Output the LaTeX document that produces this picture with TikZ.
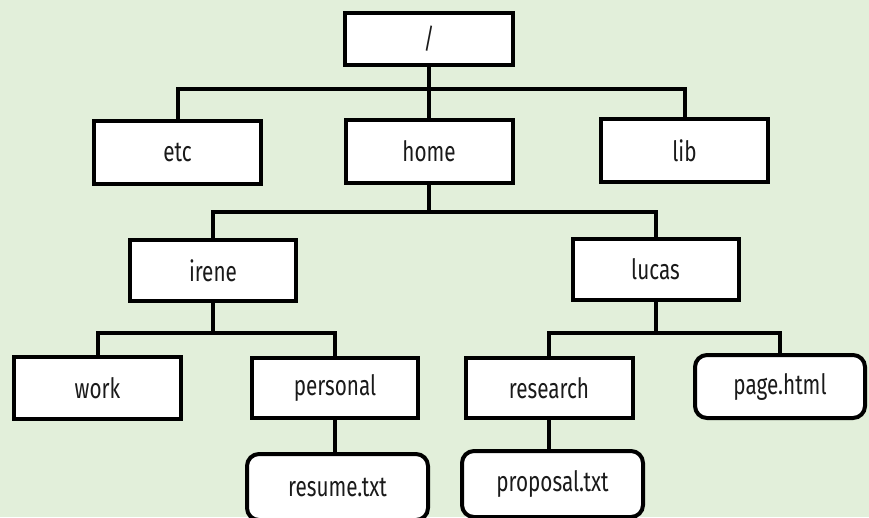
\documentclass[tikz,border=0pt]{standalone}
\usepackage{fontspec}
\setmainfont{Fira Sans}[FakeStretch=0.74]
\definecolor{bg}{HTML}{E2EFDA}
\definecolor{txt}{HTML}{1A1A1A}
\begin{document}
\begin{tikzpicture}[x=1pt,y=-1pt,
  box/.style={draw=black, line width=4pt, fill=white, text=txt,
    minimum width=167pt, minimum height=63pt, inner sep=0pt,
    font=\fontsize{28}{32}\selectfont},
  filebox/.style={box, rounded corners=12pt, minimum width=181pt},
  conn/.style={draw=black, line width=4pt}]
\fill[bg] (0,0) rectangle (869,517);
\clip (0,0) rectangle (869,517);
\useasboundingbox (0,0) rectangle (869,517);
% level 0
\node[box, minimum width=168pt, minimum height=52pt] (root) at (429,39) {/};
% level 1
\node[box] (etc) at (177.5,152) {etc};
\node[box] (home) at (429,151.5) {home};
\node[box] (lib) at (684.5,150.5) {lib};
% level 2
\node[box, minimum width=166pt, minimum height=61pt] (irene) at (213,270.5) {irene};
\node[box, minimum width=166pt, minimum height=61pt] (lucas) at (655.5,269.5) {lucas};
% level 3
\node[box, minimum height=62pt] (work) at (97.5,388) {work};
\node[box, minimum width=166pt, minimum height=60pt] (personal) at (335,388) {personal};
\node[box, minimum height=60pt] (research) at (549,388) {research};
\node[filebox, minimum width=170pt, minimum height=63pt] (page) at (780,386.5) {page.html};
% level 4
\node[filebox, minimum height=66pt] (resume) at (337.5,487) {resume.txt};
\node[filebox, minimum height=66pt] (proposal) at (552.5,484) {proposal.txt};
% connectors
\coordinate (b1) at (429,89);
\coordinate (b2) at (429,212);
\coordinate (b3) at (213,333);
\coordinate (b4) at (655.5,333);
\draw[conn] (root.south) -- (home.north);
\draw[conn] (etc.north) -- (etc.north |- b1) -- (lib.north |- b1) -- (lib.north);
\draw[conn] (home.south) -- (b2);
\draw[conn] (irene.north) -- (irene.north |- b2) -- (lucas.north |- b2) -- (lucas.north);
\draw[conn] (irene.south) -- (b3);
\draw[conn] (work.north) -- (work.north |- b3) -- (personal.north |- b3) -- (personal.north);
\draw[conn] (lucas.south) -- (b4);
\draw[conn] (research.north) -- (research.north |- b4) -- (page.north |- b4) -- (page.north);
\draw[conn] (personal.south) -- (personal.south |- resume.north);
\draw[conn] (research.south) -- (research.south |- proposal.north);
\end{tikzpicture}
\end{document}
